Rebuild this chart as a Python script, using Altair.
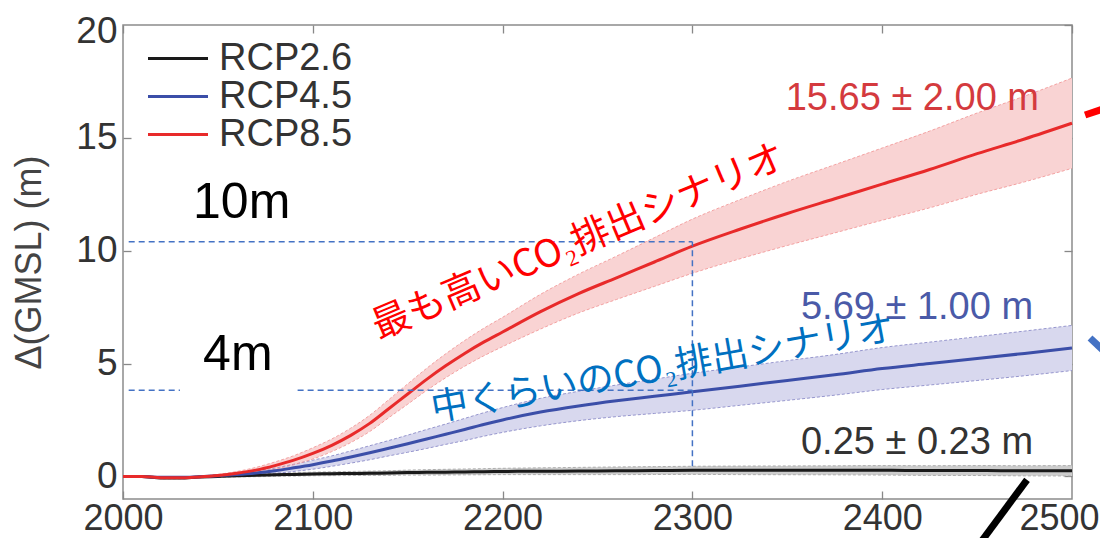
import altair as alt
import pandas as pd

# ---------------- data ----------------
years = [2000, 2010, 2020, 2030, 2040, 2050, 2060, 2070, 2080, 2090, 2100, 2110, 2120,
         2130, 2140, 2150, 2160, 2170, 2180, 2190, 2200, 2220, 2240, 2260, 2280, 2300,
         2325, 2350, 2375, 2400, 2425, 2450, 2475, 2500]

series_names = ["RCP2.6", "RCP4.5", "RCP8.5"]

rcp26_mean = [0.0, 0.0, -0.07, -0.07, -0.03, 0.0, 0.03, 0.05, 0.07, 0.09, 0.11, 0.12, 0.13,
              0.14, 0.15, 0.17, 0.18, 0.19, 0.2, 0.21, 0.22, 0.23, 0.24, 0.25, 0.26, 0.27,
              0.27, 0.27, 0.27, 0.27, 0.26, 0.26, 0.25, 0.25]
rcp26_err = [0.03, 0.03, 0.03, 0.03, 0.03, 0.04, 0.05, 0.06, 0.07, 0.075, 0.08, 0.085, 0.09,
             0.095, 0.1, 0.11, 0.12, 0.125, 0.13, 0.135, 0.14, 0.15, 0.16, 0.17, 0.175, 0.18,
             0.19, 0.195, 0.2, 0.21, 0.215, 0.22, 0.225, 0.23]

rcp45_mean = [0.0, 0.0, -0.04, -0.04, -0.01, 0.03, 0.08, 0.15, 0.25, 0.38, 0.52, 0.68, 0.86,
              1.05, 1.25, 1.45, 1.66, 1.87, 2.08, 2.3, 2.5, 2.85, 3.12, 3.35, 3.55, 3.75,
              4.0, 4.25, 4.5, 4.78, 5.0, 5.22, 5.45, 5.69]
rcp45_err = [0.02, 0.02, 0.02, 0.02, 0.02, 0.04, 0.06, 0.09, 0.12, 0.16, 0.2, 0.23, 0.27,
             0.31, 0.34, 0.38, 0.42, 0.45, 0.49, 0.52, 0.55, 0.61, 0.65, 0.7, 0.76, 0.82,
             0.85, 0.88, 0.9, 0.93, 0.95, 0.97, 0.99, 1.0]

rcp85_mean = [0.0, 0.0, -0.06, -0.06, -0.02, 0.04, 0.14, 0.28, 0.48, 0.72, 1.02, 1.38, 1.82,
              2.35, 3.0, 3.65, 4.3, 4.9, 5.45, 5.95, 6.4, 7.3, 8.1, 8.8, 9.5, 10.2,
              10.95, 11.65, 12.3, 12.95, 13.6, 14.3, 14.95, 15.65]
rcp85_err = [0.02, 0.02, 0.02, 0.02, 0.03, 0.05, 0.08, 0.12, 0.16, 0.2, 0.25, 0.28, 0.32,
             0.36, 0.4, 0.45, 0.49, 0.53, 0.57, 0.61, 0.65, 0.77, 0.86, 0.96, 1.08, 1.2,
             1.31, 1.42, 1.51, 1.6, 1.7, 1.8, 1.9, 2.0]

x_ticks = [2000, 2100, 2200, 2300, 2400, 2500]
y_ticks = [0, 5, 10, 15, 20]

end_labels = ["0.25 ± 0.23 m", "5.69 ± 1.00 m", "15.65 ± 2.00 m"]
end_label_x = [2479.5, 2479.5, 2482.6]
end_label_y = [1.5, 7.48, 16.7]

big_labels = ["10m", "4m"]
big_label_x = [2036.9, 2042.2]
big_label_y = [11.45, 4.72]

scenario_labels = ["最も高いCO₂排出シナリオ", "中くらいのCO₂排出シナリオ"]
scenario_x = [2240.3, 2284.5]
scenario_y = [10.36, 4.74]

# dashed guide lines (data units)
guide_x1 = [2003, 2003, 2092, 2300]
guide_x2 = [2300, 2030, 2300, 2300]
guide_y1 = [10.4, 3.82, 3.82, 0.45]
guide_y2 = [10.4, 3.82, 3.82, 10.4]

# pointer strokes coming from outside the panel (data units)
deco_x1 = [2506.9, 2509.5, 2476.3]
deco_x2 = [2519.0, 2519.0, 2450.5]
deco_y1 = [16.01, 6.13, -0.15]
deco_y2 = [16.36, 5.38, -3.08]

# ---------------- tables ----------------
means = [rcp26_mean, rcp45_mean, rcp85_mean]
errs = [rcp26_err, rcp45_err, rcp85_err]
frames = {}
for name, m, e in zip(series_names, means, errs):
    frames[name] = pd.DataFrame({
        "year": years, "series": name, "mean": m,
        "lo": [a - b for a, b in zip(m, e)],
        "hi": [a + b for a, b in zip(m, e)],
    })
df = pd.concat(list(frames.values()), ignore_index=True)

FONT = "Liberation Sans"
CJK = "Noto Sans CJK JP"

xs = alt.Scale(domain=[2000, 2500], nice=False, zero=False)
ys = alt.Scale(domain=[-1, 20], nice=False, zero=False)

line_colors = ["#1a1a1a", "#3b4ea8", "#e82a2a"]
band_colors = ["#cdcdcd", "#d8d8ee", "#f9d3d3"]
edge_colors = ["#a8a8a8", "#8c8cc8", "#f29a9a"]

x_axis = alt.Axis(values=x_ticks[:-1], format="d", orient="bottom", offset=-8, tickSize=8,
                  domain=False, grid=False, labelBaseline="alphabetic", labelPadding=30.5,
                  labelFontSize=36, labelFlush=False, labelOverlap=False, labelBound=False,
                  title=None)
y_axis = alt.Axis(values=y_ticks[:-1], format="d", orient="left", offset=-8, tickSize=8,
                  domain=False, grid=False, labelPadding=6, title="Δ(GMSL) (m)",
                  titlePadding=27, titleFontSize=36, titleFont=FONT,
                  titleFontWeight="normal", titleColor="#444444")

layers = []
# uncertainty bands (one layer per scenario)
for i, name in enumerate(series_names):
    enc_x = alt.X("year:Q", scale=xs, axis=x_axis if i == 0 else None)
    enc_y = alt.Y("lo:Q", scale=ys, axis=y_axis if i == 0 else None)
    layers.append(alt.Chart(frames[name]).mark_area(color=band_colors[i], opacity=1,
                                                    interpolate="monotone").encode(
        x=enc_x, y=enc_y, y2="hi:Q"))
# dashed band edges
for i, name in enumerate(series_names):
    for col in ["lo", "hi"]:
        layers.append(alt.Chart(frames[name]).mark_line(
            color=edge_colors[i], strokeWidth=0.9, strokeDash=[3, 2], interpolate="monotone"
        ).encode(
            x=alt.X("year:Q", scale=xs, axis=None),
            y=alt.Y(f"{col}:Q", scale=ys, axis=None),
        ))

lines = alt.Chart(df).mark_line(strokeWidth=3, interpolate="monotone").encode(
    x=alt.X("year:Q", scale=xs, axis=None),
    y=alt.Y("mean:Q", scale=ys, axis=None),
    color=alt.Color(
        "series:N",
        scale=alt.Scale(domain=series_names, range=line_colors),
        legend=alt.Legend(
            orient="none", legendX=36, legendY=14.5, title=None,
            symbolType="M-3,0L3,0", symbolSize=400, symbolStrokeWidth=3,
            labelFontSize=38, labelFont=FONT, labelColor="#333333",
            labelOffset=22, rowPadding=-1.5, padding=0,
        ),
    ),
)
layers.append(lines)

guides_df = pd.DataFrame({"x1": guide_x1, "x2": guide_x2, "y1": guide_y1, "y2": guide_y2})
layers.append(alt.Chart(guides_df).mark_rule(color="#4472c4", strokeWidth=1.5, strokeDash=[6, 4]).encode(
    x=alt.X("x1:Q", scale=xs, axis=None), x2="x2:Q",
    y=alt.Y("y1:Q", scale=ys, axis=None), y2="y2:Q",
))


def text_layer(label, x, y, **kw):
    d = pd.DataFrame({"x": [x], "y": [y], "t": [label]})
    return alt.Chart(d).mark_text(**kw).encode(
        x=alt.X("x:Q", scale=xs, axis=None),
        y=alt.Y("y:Q", scale=ys, axis=None),
        text="t:N",
    )


end_colors = ["#333333", "#4a5aa8", "#d43a3e"]
for lab, x, y, c in zip(end_labels, end_label_x, end_label_y, end_colors):
    layers.append(text_layer(lab, x, y, align="right", baseline="middle", font=FONT,
                             fontSize=38, color=c))
for lab, x, y in zip(big_labels, big_label_x, big_label_y):
    layers.append(text_layer(lab, x, y, align="left", baseline="alphabetic", font=FONT,
                             fontSize=50, color="#000000"))
scen_colors = ["#ff0000", "#0070c0"]
scen_angles = [337, 350]
scen_sizes = [38, 37]
for lab, x, y, c, a, s in zip(scenario_labels, scenario_x, scenario_y, scen_colors, scen_angles, scen_sizes):
    layers.append(text_layer(lab, x, y, align="center", baseline="middle", font=CJK,
                             fontSize=s, color=c, angle=a))

deco_colors = ["#ff0000", "#4472c4", "#000000"]
for x1, x2, y1, y2, c in zip(deco_x1, deco_x2, deco_y1, deco_y2, deco_colors):
    d = pd.DataFrame({"x1": [x1], "x2": [x2], "y1": [y1], "y2": [y2]})
    layers.append(alt.Chart(d).mark_rule(color=c, strokeWidth=7, clip=False).encode(
        x=alt.X("x1:Q", scale=xs, axis=None), x2="x2:Q",
        y=alt.Y("y1:Q", scale=ys, axis=None), y2="y2:Q",
    ))

# mirrored inward ticks on top and right
layers.append(alt.Chart(pd.DataFrame({"x": [2000], "y": [0]})).mark_point(opacity=0).encode(
    x=alt.X("x:Q", scale=xs, axis=alt.Axis(values=x_ticks, orient="top", offset=-8, tickSize=8,
                                           labels=False, domain=False, grid=False, title=None)),
    y=alt.Y("y:Q", scale=ys, axis=alt.Axis(values=y_ticks, orient="right", offset=-8, tickSize=8,
                                           labels=False, domain=False, grid=False, title=None)),
))

# end labels of the axes (last x label and top y label), nudged to stay inside the picture
layers.append(alt.Chart(pd.DataFrame({"x": [2000], "y": [0]})).mark_point(opacity=0).encode(
    x=alt.X("x:Q", scale=xs, axis=alt.Axis(values=x_ticks[-1:], format="d", orient="bottom",
                                           offset=-8, tickSize=8, tickOpacity=0, domain=False,
                                           grid=False, labelBaseline="alphabetic",
                                           labelPadding=30.5, labelFontSize=36, labelFlush=False,
                                           labelOverlap=False, labelBound=False, labelOffset=-13,
                                           title=None)),
    y=alt.Y("y:Q", scale=ys, axis=alt.Axis(values=y_ticks[-1:], format="d", orient="left",
                                           offset=-8, tickSize=8, tickOpacity=0, domain=False,
                                           grid=False, labelPadding=6, labelBaseline="top",
                                           labelOffset=-12, title=None)),
))

chart = alt.layer(*layers).resolve_axis(
    x="independent", y="independent"
).properties(
    width=949, height=474,
    padding={"left": 115, "top": 17, "right": 28, "bottom": 39},
    autosize=alt.AutoSizeParams(type="none"),
).configure_view(
    stroke="#8c8c8c", strokeWidth=1.5
).configure_axis(
    labelFont=FONT, labelFontSize=37, labelColor="#333333",
    tickColor="#888888", tickWidth=1.3,
)

chart.save("out.html", embed_options={"renderer": "svg", "actions": False})
